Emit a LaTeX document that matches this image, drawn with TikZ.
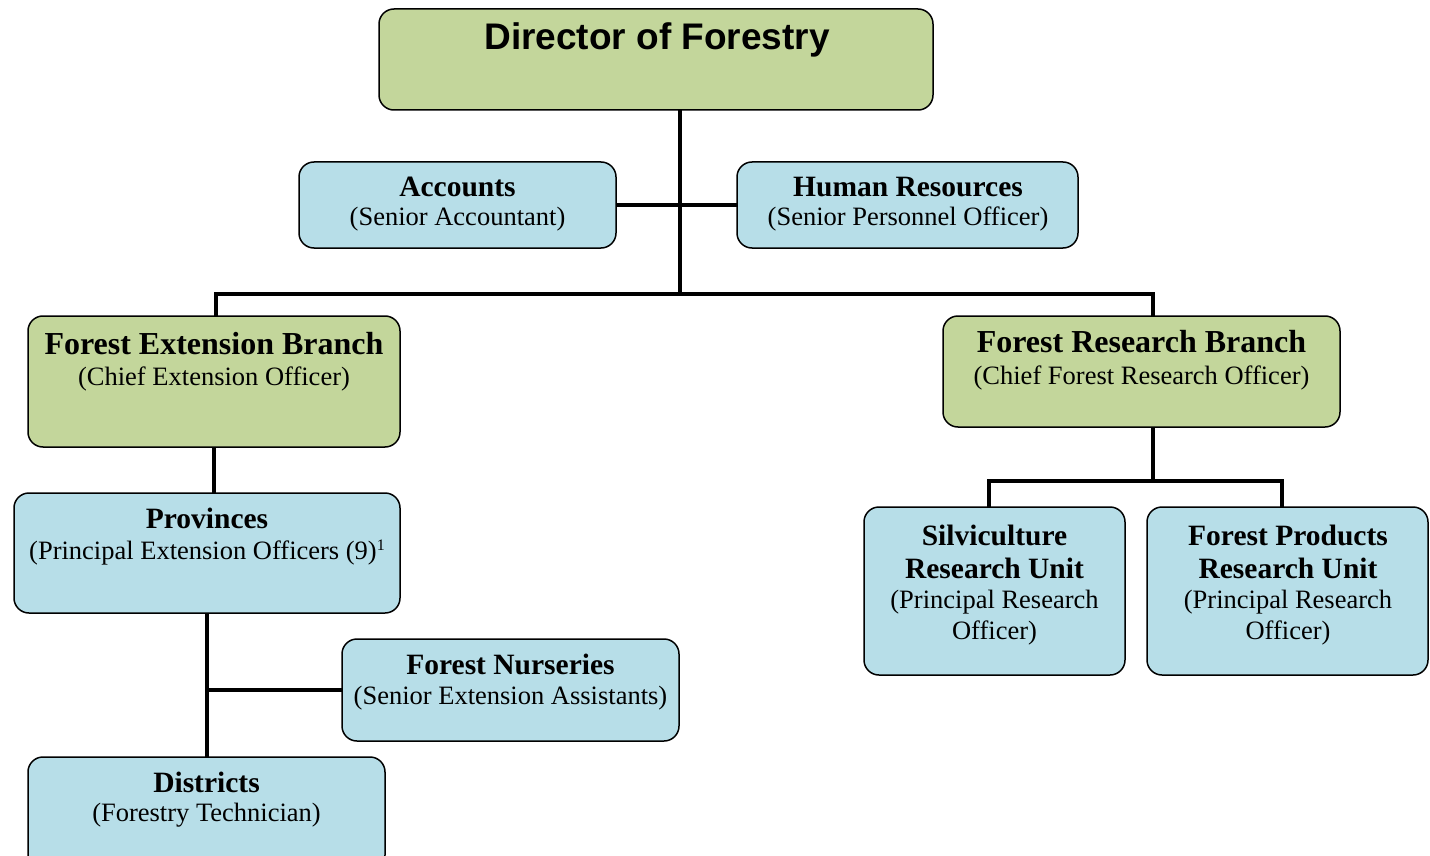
\documentclass[tikz,border=0pt]{standalone}
\usepackage{fontspec}
\setmainfont{Liberation Serif}
\newfontfamily\arialf{Liberation Sans}
\usetikzlibrary{backgrounds}
\definecolor{gfill}{HTML}{C3D69B}
\definecolor{bfill}{HTML}{B7DEE8}
\begin{document}
\begin{tikzpicture}[x=1pt,y=-1pt,
 orgbox/.style={draw=black, line width=1.5pt, rounded corners=15pt, inner sep=0pt},
 greenbox/.style={orgbox, fill=gfill},
 bluebox/.style={orgbox, fill=bfill},
 hdtext/.style={anchor=base, inner sep=0pt, font=\fontsize{29.5}{29.5}\selectfont\bfseries},
 brtext/.style={anchor=base, inner sep=0pt, font=\fontsize{32}{32}\selectfont\bfseries},
 subtext/.style={anchor=base, inner sep=0pt, font=\fontsize{26.5}{26.5}\selectfont},
 conn/.style={line width=4.8pt, line cap=rect}]
\useasboundingbox (0,0) rectangle (1430,856);
\clip (0,0) rectangle (1430,856);
% boxes
\node[greenbox, minimum width=554pt, minimum height=101pt] (dir) at (656,59.5) {};
\node[bluebox, minimum width=317pt, minimum height=86pt] (acc) at (457.5,205) {};
\node[bluebox, minimum width=341pt, minimum height=86pt] (hr) at (907.5,205) {};
\node[greenbox, minimum width=372pt, minimum height=131pt] (feb) at (214,381.5) {};
\node[greenbox, minimum width=397pt, minimum height=111pt] (frb) at (1141.5,371.5) {};
\node[bluebox, minimum width=386pt, minimum height=120pt] (prov) at (207,553) {};
\node[bluebox, minimum width=261pt, minimum height=168pt] (silv) at (994.5,591) {};
\node[bluebox, minimum width=281pt, minimum height=168pt] (fpr) at (1287.5,591) {};
\node[bluebox, minimum width=337pt, minimum height=102pt] (nurs) at (510.5,690) {};
\node[bluebox, minimum width=357pt, minimum height=113pt] (dist) at (206.5,813.5) {};
% texts
\node[anchor=base, inner sep=0pt, font=\arialf\fontsize{37}{37}\selectfont\bfseries] (dirT) at (657,50) {Director of Forestry};
\node[hdtext] (accT) at (457.5,196.5) {Accounts};
\node[subtext] (accS) at (457.5,225) {(Senior Accountant)};
\node[hdtext] (hrT) at (908,196.5) {Human Resources};
\node[subtext] (hrS) at (908,225) {(Senior Personnel Officer)};
\node[brtext] (febT) at (214,354) {Forest Extension Branch};
\node[subtext] (febS) at (214,385) {(Chief Extension Officer)};
\node[brtext] (frbT) at (1141.5,352.5) {Forest Research Branch};
\node[subtext] (frbS) at (1141.5,384) {(Chief Forest Research Officer)};
\node[hdtext] (provT) at (207,528.5) {Provinces};
\node[subtext] (provS) at (207,559) {(Principal Extension Officers (9)\raisebox{9pt}{\fontsize{16}{16}\selectfont 1}};
\node[hdtext] (silvT1) at (994.5,545.5) {Silviculture};
\node[hdtext] (silvT2) at (994.5,578) {Research Unit};
\node[subtext] (silvS1) at (994.5,608) {(Principal Research};
\node[subtext] (silvS2) at (994.5,639) {Officer)};
\node[hdtext] (fprT1) at (1288,545.5) {Forest Products};
\node[hdtext] (fprT2) at (1288,578) {Research Unit};
\node[subtext] (fprS1) at (1288,608) {(Principal Research};
\node[subtext] (fprS2) at (1288,639) {Officer)};
\node[hdtext] (nursT) at (510.5,674.5) {Forest Nurseries};
\node[subtext] (nursS) at (510.5,704) {(Senior Extension Assistants)};
\node[hdtext] (distT) at (206.5,792) {Districts};
\node[subtext] (distS) at (206.5,821) {(Forestry Technician)};
% connectors
\coordinate (jm) at (680,294);
\coordinate (jl) at (216,294);
\coordinate (jr) at (1153,294);
\coordinate (rj) at (1153,481);
\coordinate (rjl) at (989,481);
\coordinate (rjr) at (1282,481);
\coordinate (nj) at (207,690);
\begin{scope}[on background layer]
\draw[conn] (dir.south -| jm) -- (jm);
\draw[conn] (acc.east) -- (hr.west);
\draw[conn] (jl) -- (jr);
\draw[conn] (jl) -- (jl |- feb.north);
\draw[conn] (jr) -- (jr |- frb.north);
\draw[conn] (feb.south) -- (feb.south |- prov.north);
\draw[conn] (rj |- frb.south) -- (rj);
\draw[conn] (rjl) -- (rjr);
\draw[conn] (rjl) -- (rjl |- silv.north);
\draw[conn] (rjr) -- (rjr |- fpr.north);
\draw[conn] (prov.south) -- (prov.south |- dist.north);
\draw[conn] (nj) -- (nurs.west);
\end{scope}
\end{tikzpicture}
\end{document}
